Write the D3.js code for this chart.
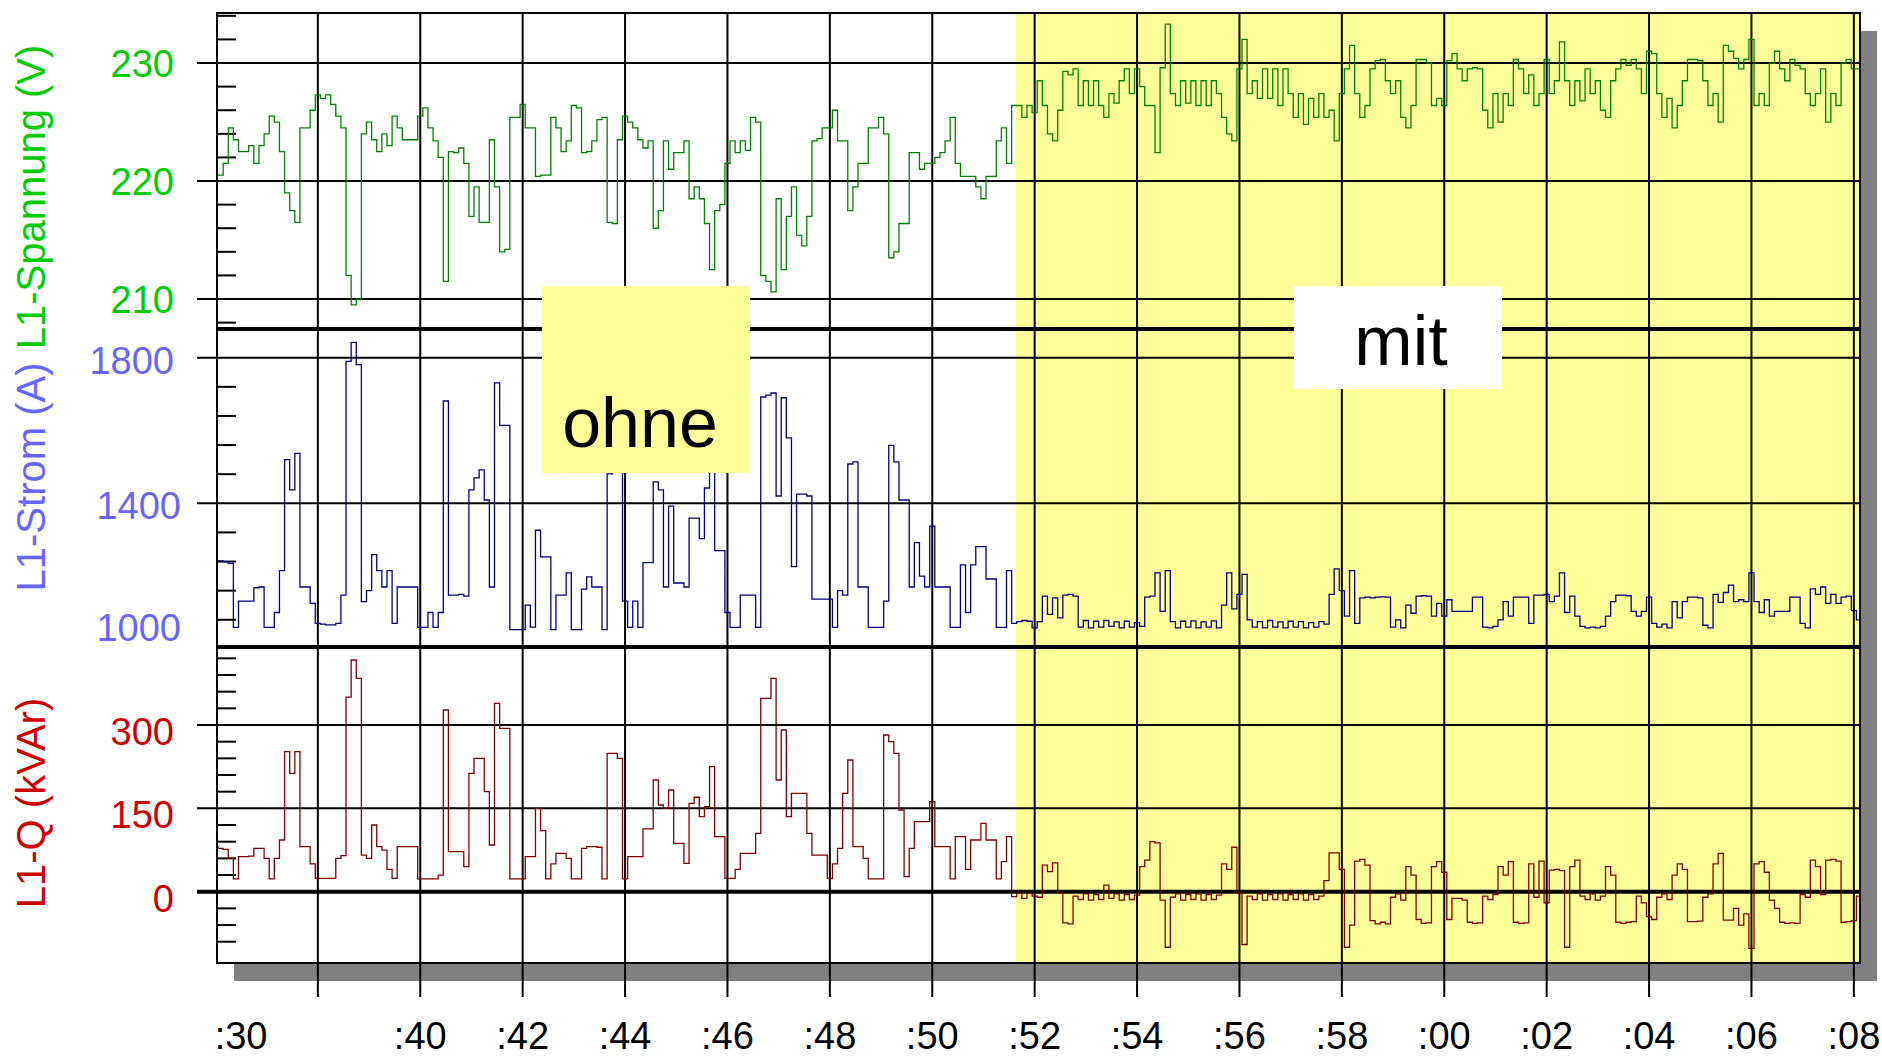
<!DOCTYPE html>
<html><head><meta charset="utf-8">
<script src="https://cdn.jsdelivr.net/npm/d3@7"></script>
<style>
body{margin:0;background:#fff}
svg{display:block}
text{font-family:"Liberation Sans",Arial,Helvetica,sans-serif}
</style>
</head><body>
<svg id="c" width="1882" height="1058"></svg>
<script>
// ---- data (time in minutes, one sample every 0.1 min from :36.0) ----
const T0 = 36.0, DT = 0.1;
const mitStart = 51.63;

const voltage = [
220.5,220.5,221.5,224.5,223.5,222.5,222.5,223,221.5,223,
224,225.5,225,222.5,219,217.5,216.5,224.5,224.5,226,
227.3,227,227.3,226.5,225.5,224.5,212,209.5,210,224,
225,223.5,222.5,224,223,225.5,224.5,223.5,223.5,223.5,
225.5,226.2,224.5,223.4,222,211.5,222.5,222.4,222.8,221.5,
217,219.5,216.5,216.5,223.5,219.5,214,214.2,225.4,225.4,
226.5,224.5,224.5,220.4,220.5,220.5,225.4,224.5,222.5,223.4,
226.4,226.2,222.4,222.5,223.4,225.2,225.4,216.5,216.4,223.5,
225.5,225,224.5,223.5,222.8,223.4,216,217.5,223.4,221,
222.4,222.4,223.4,218.5,219.5,218.5,216.4,212.5,217.5,218,
221.5,223.4,222.4,223.4,222.6,225.4,225,212,211.5,210.6,
218.5,212.5,217,219.5,215.4,214.5,217,223.4,223.6,224.5,
224.5,226,223.4,223.4,217.5,219.5,221.5,221.5,224.5,224.5,
225.4,224,213.5,214,216.4,216.4,222.4,222.4,221,221.5,
221.5,222,222.4,223.4,225.4,221.5,220.4,220.4,220.4,219.5,
218.5,220.4,220.4,223.4,224.5,221.5,226.4,226.4,225.4,226.4,
225.8,228.5,226.4,224,223.4,226,229.3,229,229.5,226.4,
228.5,226.4,228.5,226.4,225.4,227.4,226.6,228.5,229.5,227.4,
229.5,228,226.4,226.4,222.4,229.6,233.3,227.4,226.4,228.5,
226.6,228.5,226.4,228.5,226.4,228.5,227.4,225.4,224,223.4,
229.5,232,227.4,228.5,227,229.5,227,229.5,226.4,229.5,
227.4,225.4,227.4,224.8,227,225.4,227.4,225.4,226,223.4,
227.4,229.5,231.5,227.4,225.4,226.4,229.5,230.2,230.3,228.5,
227.4,228.5,225.4,224.5,226.4,230.3,230.3,230,226.4,227,
226.4,230.2,230.8,229.5,228.5,229.5,229.6,229.5,226,224.5,
227.4,225,227.4,226.4,230.3,229.5,227.4,229,226.4,227.4,
230.3,227.4,228.5,231.8,228.5,226.4,228.5,226.8,229.5,227.4,
228.5,226,225.4,228.5,229.5,230.3,229.8,230.3,229.5,227.4,
231,230.8,227.4,225.4,227,224.5,226.4,228.5,230.3,230.3,
230.2,228.5,226.4,227.4,225,231.5,231,230.4,229.5,230.3,
232,226.4,227.4,226.4,230,231,229.5,228.5,230.3,229.8,
229.5,227.4,226.4,227.4,229.5,225,227.4,226.4,230,230.3,
229.5,229.5
];

const current = [
1242,1242,1240,1235,1059,1131,1131,1131,1168,1170,
1059,1059,1100,1215,1520,1437,1537,1170,1170,1125,
1070,1068,1066,1066,1070,1148,1790,1842,1781,1130,
1160,1259,1215,1170,1215,1070,1170,1170,1170,1170,
1059,1059,1100,1059,1100,1681,1148,1148,1150,1145,
1437,1470,1492,1409,1170,1731,1614,1614,1053,1053,
1053,1120,1060,1326,1253,1253,1053,1148,1148,1209,
1053,1053,1164,1198,1170,1170,1053,1481,1500,1525,
1131,1059,1131,1059,1237,1237,1459,1437,1170,1392,
1181,1181,1170,1359,1359,1303,1442,1492,1270,1270,
1100,1059,1059,1148,1148,1148,1059,1692,1697,1703,
1420,1690,1580,1226,1425,1425,1420,1137,1137,1137,
1137,1059,1160,1148,1508,1514,1170,1170,1059,1059,
1059,1131,1559,1514,1409,1409,1170,1292,1200,1170,
1337,1170,1170,1170,1059,1059,1231,1100,1231,1281,
1281,1192,1192,1059,1059,1215,1070,1075,1078,1076,
1058,1075,1145,1095,1140,1085,1148,1150,1145,1060,
1078,1058,1076,1060,1078,1062,1074,1058,1076,1060,
1072,1062,1142,1145,1209,1103,1215,1075,1058,1076,
1060,1077,1058,1074,1060,1077,1058,1120,1209,1110,
1150,1205,1080,1060,1075,1058,1078,1060,1074,1058,
1076,1060,1075,1058,1072,1060,1075,1068,1150,1220,
1160,1090,1215,1070,1140,1142,1140,1142,1143,1142,
1060,1080,1058,1120,1098,1145,1146,1145,1090,1125,
1090,1135,1103,1103,1103,1103,1142,1142,1060,1058,
1062,1080,1130,1090,1142,1142,1142,1070,1148,1148,
1150,1130,1145,1209,1100,1145,1090,1062,1058,1060,
1058,1062,1090,1130,1148,1148,1146,1103,1090,1103,
1142,1070,1060,1068,1058,1130,1085,1130,1142,1142,
1140,1065,1058,1150,1128,1155,1175,1130,1135,1130,
1209,1130,1100,1135,1090,1103,1103,1103,1142,1142,
1070,1058,1165,1150,1170,1125,1150,1125,1142,1145,
1105,1080
];

const reactive = [
81,78,76,60,23,63,63,64,78,78,
60,23,60,93,252,213,252,81,81,50,
24,24,24,24,60,65,350,417,384,66,
60,120,81,75,40,24,81,81,81,81,
23,23,23,23,30,327,72,72,72,45,
213,240,240,180,84,339,294,294,23,23,
23,63,63,150,110,23,50,69,69,60,
23,23,78,81,81,80,23,249,249,240,
23,63,63,63,113,113,201,156,150,183,
87,87,51,159,170,135,153,225,99,99,
24,24,40,69,69,69,105,348,348,384,
201,291,135,177,177,177,105,66,66,66,
24,50,78,177,237,81,81,60,23,23,
23,282,270,249,147,27,78,126,126,126,
162,81,81,81,23,99,99,40,93,93,
123,93,93,23,54,99,-9,-3,-12,-3,
-8,-10,48,36,52,-2,-56,-58,-8,-14,
-4,-15,-5,-14,12,-12,-4,-15,-5,-14,
-6,45,57,90,88,-15,-100,-10,-4,-15,
-5,-14,-4,-15,-5,-14,-6,50,40,80,
-2,-95,-8,-14,-4,-15,-5,-14,-4,-15,
-5,-14,-4,-15,-5,-14,-8,20,70,70,
40,-100,-60,55,58,48,-52,-58,-55,-58,
-10,-4,-15,45,30,-50,-57,-56,45,54,
35,-50,-12,-12,-15,-55,-57,-56,-8,-14,
-5,45,30,54,-55,-57,-56,50,-10,55,
-20,39,40,38,-100,45,57,-8,-14,-4,
-15,-8,45,30,-55,-57,-55,-54,-8,-20,
-45,-50,-10,-4,-14,30,50,40,-54,-54,
-53,-10,-4,50,69,-51,-51,-30,-60,-40,
-102,50,54,35,-15,-30,-55,-57,-56,-57,
-5,-10,57,45,-5,57,58,55,-55,-54,
-52,-8
];

// ---- axis ticks ----
const xGridMinutes = [38,40,42,44,46,48,50,52,54,56,58,60,62,64,66,68];
const xLabelMinutes = [36.5,40,42,44,46,48,50,52,54,56,58,60,62,64,66,68];
const xLabelTexts = [":30",":40",":42",":44",":46",":48",":50",":52",":54",":56",":58",":00",":02",":04",":06",":08"];
const vMajor = [210,220,230];
const vMinor = [208,212,214,216,218,222,224,226,228,232,234];
const iMajor = [1400,1800];
const iLabels = [1000,1400,1800];
const iMinor = [1080,1160,1240,1320,1480,1560,1640,1720];
const qMajor = [150,300];
const qLabels = [0,150,300];
const qMinor = [-90,-60,-30,30,60,90,120,180,210,240,270,330,360,390,420];
const titles = ["L1-Spannung (V)","L1-Strom (A)","L1-Q (kVAr)"];
const notes = ["ohne","mit"];

// ---- layout ----
const L=217, R=1860, T=13, B=963, S1=329, S2=647;
const colV="#00cc00", colI="#6666ff", colQ="#cc0000";
const lineV="#008000", lineI="#000080", lineQ="#800000";

const x = d3.scaleLinear().domain([36.03, 36.03+(R-L)/51.2]).range([L,R]);
const yV = d3.scaleLinear().domain([207.46,234.24]).range([S1,T]);
const yI = d3.scaleLinear().domain([1000,1800]).range([648.9,357.7]);
const yQ = d3.scaleLinear().domain([0,300]).range([891.7,725]);
const time = voltage.map((_,i)=>T0+i*DT);

const svg = d3.select("#c");
const defs = svg.append("defs");
[["cV",T,S1],["cI",S1,S2],["cQ",S2,B]].forEach(([id,a,b])=>{
  defs.append("clipPath").attr("id",id).append("rect")
    .attr("x",L).attr("y",a).attr("width",R-L).attr("height",b-a);
});

// shadow + background
svg.append("rect").attr("x",L+17).attr("y",T+18).attr("width",R-L).attr("height",B-T).attr("fill","#808080");
svg.append("rect").attr("x",L).attr("y",T).attr("width",R-L).attr("height",B-T).attr("fill","#fff");
svg.append("rect").attr("x",x(mitStart)).attr("y",T).attr("width",R-x(mitStart)).attr("height",B-T).attr("fill","#ffff99");

const g = svg.append("g");
// vertical grid
g.selectAll("line.vx").data(xGridMinutes).join("line")
  .attr("x1",d=>x(d)).attr("x2",d=>x(d)).attr("y1",T).attr("y2",997)
  .attr("stroke","#000").attr("stroke-width",2);

function hgrid(vals, sc, w, x1){
  g.append("g").selectAll("line").data(vals).join("line")
   .attr("x1",x1).attr("x2",R).attr("y1",d=>sc(d)).attr("y2",d=>sc(d))
   .attr("stroke","#000").attr("stroke-width",w);
}
function minor(vals, sc){
  g.append("g").selectAll("line").data(vals).join("line")
   .attr("x1",L).attr("x2",L+19).attr("y1",d=>sc(d)).attr("y2",d=>sc(d))
   .attr("stroke","#000").attr("stroke-width",2);
}
hgrid(vMajor,yV,2,197); minor(vMinor,yV);
hgrid(iMajor,yI,2,197); minor(iMinor,yI);
hgrid(qMajor,yQ,2,197); minor(qMinor,yQ);
hgrid([0],yQ,4,197);
// panel separators
g.append("g").selectAll("line").data([S1,S2]).join("line")
  .attr("x1",L).attr("x2",R).attr("y1",d=>d).attr("y2",d=>d)
  .attr("stroke","#000").attr("stroke-width",4);

// data lines
function series(vals, sc, col, clip){
  const ln = d3.line().curve(d3.curveStep).x((d,i)=>x(time[i])).y(d=>sc(d));
  svg.append("path").datum(vals).attr("d",ln).attr("fill","none")
    .attr("stroke",col).attr("stroke-width",1.3).attr("stroke-linejoin","miter")
    .attr("clip-path",`url(#${clip})`);
}
series(voltage,yV,lineV,"cV");
series(current,yI,lineI,"cI");
series(reactive,yQ,lineQ,"cQ");

// annotation boxes
svg.append("rect").attr("x",542).attr("y",286).attr("width",208).attr("height",187).attr("fill","#ffff99");
svg.append("text").attr("x",640).attr("y",447).attr("text-anchor","middle").attr("font-size",70).attr("fill","#000").text(notes[0]);
svg.append("rect").attr("x",1294).attr("y",286).attr("width",208).attr("height",103).attr("fill","#fff");
svg.append("text").attr("x",1401).attr("y",365).attr("text-anchor","middle").attr("font-size",70).attr("fill","#000").text(notes[1]);

// frame
svg.append("rect").attr("x",L).attr("y",T).attr("width",R-L).attr("height",B-T)
  .attr("fill","none").attr("stroke","#000").attr("stroke-width",2);

// y labels
const fs = 38;
svg.append("g").selectAll("text").data(vMajor).join("text")
  .attr("x",174).attr("y",d=>yV(d)+14).attr("text-anchor","end").attr("font-size",fs).attr("fill",colV).text(d=>d);
svg.append("g").selectAll("text").data(iLabels).join("text")
  .attr("x",d=>d<1800?181:174).attr("y",d=>Math.min(yI(d)+16,641)).attr("text-anchor","end").attr("font-size",fs).attr("fill",colI).text(d=>d);
svg.append("g").selectAll("text").data(qLabels).join("text")
  .attr("x",174).attr("y",d=>yQ(d)+20).attr("text-anchor","end").attr("font-size",fs).attr("fill",colQ).text(d=>d);

// axis titles
[[titles[0],197,colV],[titles[1],477,colI],[titles[2],803,colQ]].forEach(([t,cy,c])=>{
  svg.append("text").attr("transform",`translate(45,${cy}) rotate(-90)`)
    .attr("text-anchor","middle").attr("font-size",40).attr("fill",c).text(t);
});

// x labels
svg.append("g").selectAll("text").data(xLabelMinutes).join("text")
  .attr("x",d=>x(d)).attr("y",1049).attr("text-anchor","middle").attr("font-size",fs).attr("fill","#000")
  .text((d,i)=>xLabelTexts[i]);
</script>
</body></html>
